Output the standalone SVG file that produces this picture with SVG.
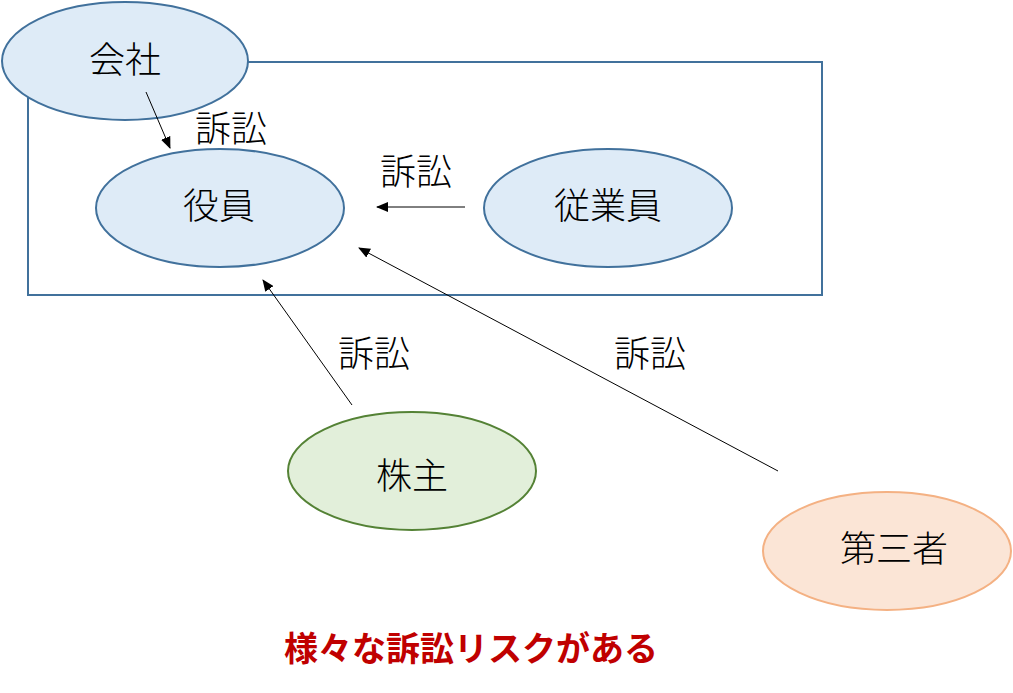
<svg xmlns="http://www.w3.org/2000/svg" width="1013" height="693" viewBox="0 0 1013 693">
<style>
.t{font-family:"Noto Sans CJK JP","Noto Sans CJK SC",sans-serif;font-size:36px;font-weight:300;fill:#000;text-anchor:middle;dominant-baseline:central}
.blue{fill:#deebf7;stroke:#41719c;stroke-width:2}
.green{fill:#e2efda;stroke:#548235;stroke-width:2}
.orange{fill:#fbe5d6;stroke:#f4b183;stroke-width:2}
.c{stroke:#000;stroke-width:1;fill:none;marker-end:url(#ah)}
.title{font-family:"Noto Sans CJK JP",sans-serif;font-size:34px;font-weight:bold;fill:#c00000;text-anchor:middle;dominant-baseline:central}
</style>
<defs>
<marker id="ah" markerWidth="12" markerHeight="10" refX="11" refY="5" orient="auto" markerUnits="userSpaceOnUse">
<path d="M0,0 L12,5 L0,10 Z" fill="#000"/>
</marker>
</defs>
<rect id="boundary" x="28" y="62" width="794" height="233" fill="none" stroke="#41719c" stroke-width="2"/>
<g id="company"><ellipse class="blue" cx="125" cy="61" rx="123" ry="59"/><text class="t" x="125" y="57">会社</text></g>
<g id="officer"><ellipse class="blue" cx="220" cy="208" rx="124" ry="59"/><text class="t" x="219" y="203">役員</text></g>
<g id="employee"><ellipse class="blue" cx="608" cy="208" rx="124" ry="59"/><text class="t" x="608" y="203">従業員</text></g>
<g id="shareholder"><ellipse class="green" cx="412" cy="471" rx="124" ry="59"/><text class="t" x="412" y="473">株主</text></g>
<g id="thirdparty"><ellipse class="orange" cx="887" cy="551" rx="124" ry="59"/><text class="t" x="894" y="546">第三者</text></g>
<g id="connectors">
<line class="c" x1="146" y1="92" x2="170" y2="148"/>
<line class="c" x1="465" y1="207" x2="377" y2="207"/>
<line class="c" x1="352" y1="405" x2="263" y2="280"/>
<line class="c" x1="778" y1="471" x2="359" y2="248"/>
<text class="t" x="231" y="126">訴訟</text>
<text class="t" x="416" y="169">訴訟</text>
<text class="t" x="374" y="351">訴訟</text>
<text class="t" x="650" y="351">訴訟</text>
</g>
<text id="caption" class="title" x="471" y="646">様々な訴訟リスクがある</text>
</svg>
